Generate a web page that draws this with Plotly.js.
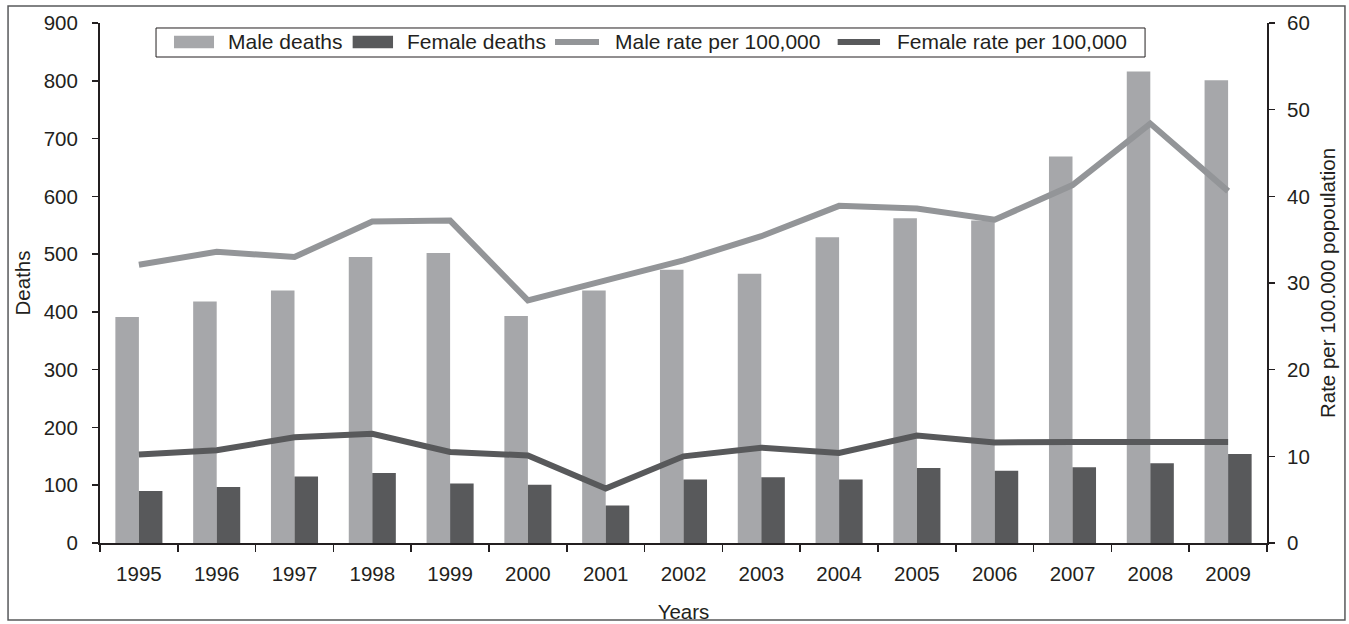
<!DOCTYPE html>
<html>
<head>
<meta charset="utf-8">
<script src="https://cdn.plot.ly/plotly-3.0.1.min.js"></script>
<style>
  html, body { margin: 0; padding: 0; background: #fff; }
  #chart { width: 1349px; height: 624px; }
</style>
</head>
<body>
<div id="chart"></div>
<script>
const years = ['1995','1996','1997','1998','1999','2000','2001','2002','2003','2004','2005','2006','2007','2008','2009'];
const maleDeaths   = [391, 418, 437, 495, 502, 393, 437, 473, 466, 529, 562, 558, 669, 816, 801];
const femaleDeaths = [90, 97, 115, 121, 103, 101, 65, 110, 114, 110, 130, 125, 131, 138, 154];
const maleRate     = [32.1, 33.6, 33.0, 37.1, 37.2, 28.0, 30.3, 32.6, 35.4, 38.9, 38.6, 37.3, 41.3, 48.4, 40.6];
const femaleRate   = [10.2, 10.7, 12.2, 12.6, 10.5, 10.1, 6.3, 10.0, 11.0, 10.4, 12.4, 11.6, 11.65, 11.7, 11.65];

const seriesNames  = ['Male deaths', 'Female deaths', 'Male rate per 100,000', 'Female rate per 100,000'];
const seriesColors = ['#a6a7aa', '#58595b', '#939598', '#58595b'];

const txt = '#231f20';
const fam = 'Liberation Sans, Arial, sans-serif';
const font = { family: fam, size: 20.5, color: txt };

const traces = [
  { type: 'bar', name: seriesNames[0], x: years, y: maleDeaths, marker: { color: seriesColors[0] } },
  { type: 'bar', name: seriesNames[1], x: years, y: femaleDeaths, marker: { color: seriesColors[1] } },
  { type: 'scatter', mode: 'lines', name: seriesNames[2], x: years, y: maleRate, yaxis: 'y2',
    line: { color: seriesColors[2], width: 6 } },
  { type: 'scatter', mode: 'lines', name: seriesNames[3], x: years, y: femaleRate, yaxis: 'y2',
    line: { color: seriesColors[3], width: 6 } }
];

// custom legend (paper coordinates), drawn as box + swatches + labels
const legendSwatchX = [[0.0634, 0.0977], [0.2165, 0.2511], [0.3899, 0.4276], [0.6321, 0.6684]];
const legendTextX = [0.108, 0.2614, 0.4393, 0.6812];
const legendY = 0.9635;

const shapes = [
  { type: 'rect', xref: 'paper', yref: 'paper', x0: -0.0788, x1: 1.0668, y0: -0.148, y1: 1.0327,
    line: { color: '#58595b', width: 1.5 }, fillcolor: 'rgba(0,0,0,0)', layer: 'below' },
  { type: 'rect', xref: 'paper', yref: 'paper', x0: 0.048, x1: 0.8955, y0: 0.9346, y1: 0.9904,
    line: { color: txt, width: 1 }, fillcolor: '#fff', layer: 'above' }
];
const annotations = [];
seriesNames.forEach((nm, i) => {
  const [a, b] = legendSwatchX[i];
  if (i < 2) {
    shapes.push({ type: 'rect', xref: 'paper', yref: 'paper', x0: a, x1: b,
      y0: legendY - 0.0122, y1: legendY + 0.0122, line: { width: 0 }, fillcolor: seriesColors[i], layer: 'above' });
  } else {
    shapes.push({ type: 'line', xref: 'paper', yref: 'paper', x0: a, x1: b,
      y0: legendY, y1: legendY, line: { color: seriesColors[i], width: 6 }, layer: 'above' });
  }
  annotations.push({ xref: 'paper', yref: 'paper', x: legendTextX[i], y: legendY, xanchor: 'left', yanchor: 'middle',
    text: nm, showarrow: false, font: { family: fam, size: 21, color: txt } });
});

const layout = {
  width: 1349, height: 624,
  margin: { l: 100, r: 82, t: 23, b: 81 },
  paper_bgcolor: '#fff', plot_bgcolor: '#fff',
  font: font,
  barmode: 'group', bargap: 0.395, bargroupgap: 0,
  showlegend: false,
  xaxis: {
    type: 'category', tickson: 'boundaries', ticks: 'outside', ticklen: 7, tickcolor: txt, tickwidth: 1.5,
    showline: true, linecolor: txt, linewidth: 1.5, showgrid: false, zeroline: false,
    ticklabelstandoff: 12,
    title: { text: 'Years', font: { size: 20.5, color: txt }, standoff: 20 }
  },
  yaxis: {
    range: [0, 900], dtick: 100, ticks: 'outside', ticklen: 6, tickcolor: txt, tickwidth: 1.5,
    showline: true, linecolor: txt, linewidth: 2, showgrid: false, zeroline: false,
    ticklabelstandoff: 10,
    title: { text: 'Deaths', font: { size: 20.5, color: txt }, standoff: 8 }
  },
  yaxis2: {
    overlaying: 'y', side: 'right', range: [0, 60], dtick: 10, ticks: 'outside', ticklen: 6,
    tickcolor: txt, tickwidth: 1.5, showline: true, linecolor: txt, linewidth: 2,
    showgrid: false, zeroline: false, ticklabelstandoff: 8,
    title: { text: 'Rate per 100.000 popoulation', font: { size: 20.5, color: txt }, standoff: 12 }
  },
  shapes: shapes,
  annotations: annotations
};

Plotly.newPlot('chart', traces, layout, { displayModeBar: false, staticPlot: true });
</script>
</body>
</html>
